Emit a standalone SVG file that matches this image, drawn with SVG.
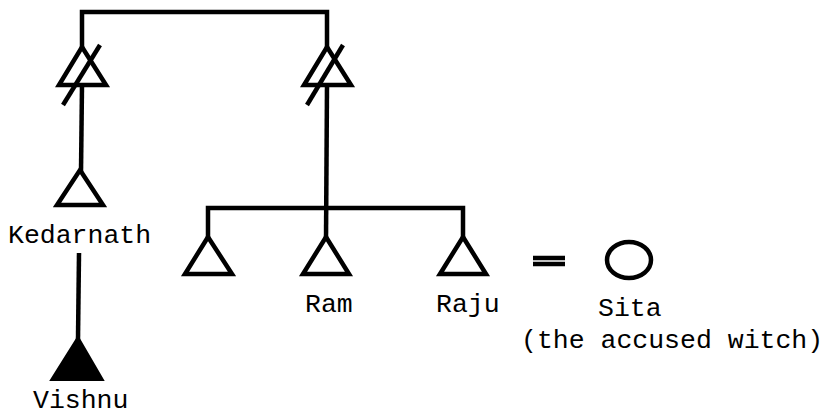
<svg xmlns="http://www.w3.org/2000/svg" width="826" height="416" viewBox="0 0 826 416">
<style>
.ln{fill:none;stroke:#000;stroke-width:4.5;stroke-linejoin:miter;stroke-linecap:butt}
.tri{fill:#fff;stroke:#000;stroke-width:4.5;stroke-linejoin:miter}
.fill{fill:#000;stroke:#000;stroke-width:2}
.t{font-family:"Liberation Mono","DejaVu Sans Mono",monospace;font-size:26.5px;fill:#000}
</style>
<rect width="826" height="416" fill="#fff"/>
<g id="connectors">
<path class="ln" d="M82,49 V12 H327 V49"/>
<path class="ln" d="M82,85 L81,172"/>
<path class="ln" d="M327,85 L326,239"/>
<path class="ln" d="M208,239 V208 H463 V239"/>
<path class="ln" d="M79,253 L78,340"/>
<path class="ln" d="M533,258 H565 M533,264 H565"/>
</g>
<g id="node-deceased-left">
<path class="tri" d="M82,47 L106,85 H59 Z"/>
<path class="ln" d="M63,105 L100,45"/>
</g>
<g id="node-deceased-right">
<path class="tri" d="M327,47 L351,85 H304 Z"/>
<path class="ln" d="M307,105 L343,45"/>
</g>
<g id="node-kedarnath">
<path class="tri" d="M80,170 L103,205 H57 Z"/>
<text class="t" x="8" y="243">Kedarnath</text>
</g>
<g id="node-vishnu">
<path class="fill" d="M78,337 L103,380 H51 Z"/>
<text class="t" x="33" y="408">Vishnu</text>
</g>
<g id="node-sibling">
<path class="tri" d="M208,237 L232,274 H185 Z"/>
</g>
<g id="node-ram">
<path class="tri" d="M326,237 L349,274 H303 Z"/>
<text class="t" x="305" y="312">Ram</text>
</g>
<g id="node-raju">
<path class="tri" d="M463,237 L486,274 H440 Z"/>
<text class="t" x="436" y="312">Raju</text>
</g>
<g id="node-sita">
<ellipse cx="629" cy="260" rx="22" ry="18" fill="#fff" stroke="#000" stroke-width="4.5"/>
<text class="t" x="598" y="316">Sita</text>
<text class="t" x="521" y="348">(the accused witch)</text>
</g>
</svg>
